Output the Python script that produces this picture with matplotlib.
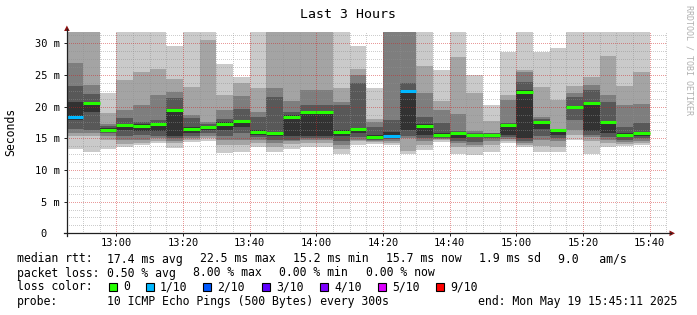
import matplotlib
matplotlib.use("Agg")
import matplotlib.pyplot as plt
from matplotlib.patches import Rectangle, Polygon
from matplotlib.lines import Line2D
import numpy as np

# 5-minute slots from 12:45 to 15:40, minutes after 12:00
slot_start = [45 + 5 * i for i in range(35)]

# the ten pings of every slot, sorted (ms); values above ~32 are cut by the graph top
ping01 = [13.3, 12.9, 13.3, 13.7, 13.9, 14.2, 13.5, 14.4, 14.6, 12.7, 12.8, 13.6, 12.9, 13.3, 13.7, 13.7, 12.6, 14.0,
          14.1, 13.9, 12.6, 13.2, 14.4, 12.5, 12.4, 12.9, 14.3, 13.7, 12.9, 12.9, 14.7, 12.5, 13.7, 13.8, 13.9]
ping02 = [15.3, 15.4, 14.8, 14.1, 14.3, 14.6, 14.3, 14.8, 15.0, 14.0, 13.9, 14.2, 13.6, 14.1, 14.2, 14.2, 13.3, 14.5,
          14.4, 14.3, 13.0, 14.0, 14.7, 13.6, 13.6, 14.0, 14.6, 14.0, 13.8, 13.6, 15.5, 14.5, 14.2, 14.1, 14.3]
ping03 = [15.8, 15.9, 15.3, 14.7, 14.7, 15.0, 14.6, 15.1, 15.4, 14.7, 14.7, 14.7, 14.3, 14.5, 14.7, 14.7, 13.9, 14.8,
          14.6, 14.6, 15.1, 14.6, 14.9, 14.2, 13.9, 14.5, 14.9, 14.3, 14.7, 14.6, 16.3, 15.2, 14.7, 14.4, 14.6]
ping04 = [16.4, 16.3, 15.8, 15.4, 15.5, 15.4, 15.0, 15.4, 15.8, 15.4, 15.8, 15.2, 14.8, 14.8, 15.0, 15.0, 14.6, 15.2,
          14.8, 14.9, 15.3, 15.1, 15.1, 14.5, 14.4, 15.0, 15.2, 14.5, 15.4, 15.1, 17.9, 15.6, 15.2, 14.8, 15.0]
ping05 = [17.9, 19.2, 16.1, 16.3, 16.2, 16.2, 15.4, 15.8, 16.3, 16.3, 16.8, 15.5, 15.4, 15.4, 15.4, 15.4, 15.3, 15.8,
          15.0, 15.2, 16.3, 15.6, 15.3, 15.0, 15.2, 15.3, 15.5, 15.0, 16.5, 15.6, 19.8, 16.1, 15.9, 15.2, 15.4]
ping06 = [20.8, 20.8, 16.6, 17.1, 17.2, 17.4, 19.6, 16.8, 17.0, 17.5, 17.9, 16.3, 16.0, 18.7, 19.3, 19.3, 16.3, 16.6,
          15.5, 16.0, 22.6, 17.3, 15.9, 16.0, 15.7, 15.7, 17.3, 22.6, 17.8, 16.35, 20.1, 20.8, 17.7, 15.8, 16.0]
ping07 = [23.2, 22.0, 16.9, 18.2, 17.5, 17.9, 21.4, 18.2, 17.2, 18.0, 19.7, 18.4, 21.6, 19.2, 20.3, 20.3, 20.3, 23.7,
          16.8, 17.9, 23.8, 18.3, 17.4, 16.2, 15.9, 15.8, 17.4, 23.9, 18.0, 16.4, 21.6, 22.6, 20.8, 16.8, 17.4]
ping08 = [26.9, 23.4, 17.3, 19.5, 20.3, 21.8, 22.3, 18.7, 17.5, 19.5, 21.7, 19.2, 22.9, 20.9, 22.7, 22.7, 20.8, 25.0,
          17.5, 33.0, 33.0, 22.1, 19.4, 18.9, 16.2, 15.9, 21.1, 25.4, 18.4, 16.5, 22.2, 23.4, 21.8, 20.3, 20.4]
ping09 = [33.0, 33.0, 19.0, 24.2, 25.5, 25.9, 24.4, 23.1, 30.5, 21.9, 23.7, 23.0, 33.0, 33.0, 33.0, 33.0, 22.9, 25.9,
          18.1, 34.0, 34.0, 26.4, 20.9, 27.8, 22.1, 17.8, 21.8, 25.8, 23.1, 21.0, 23.3, 24.7, 28.0, 23.3, 25.4]
ping10 = [34.0, 34.0, 22.1, 33.0, 33.0, 33.0, 29.5, 33.0, 33.0, 26.8, 24.7, 33.0, 34.0, 34.0, 34.0, 34.0, 33.0, 29.5,
          22.9, 35.0, 35.0, 33.0, 25.8, 33.0, 25.0, 20.3, 28.7, 33.0, 28.7, 29.2, 33.0, 33.0, 33.0, 33.0, 33.0]

median = [18.3, 20.6, 16.3, 17.1, 16.9, 17.2, 19.5, 16.5, 16.8, 17.3, 17.7, 16.0, 15.8, 18.4, 19.2, 19.2, 16.0, 16.4,
          15.2, 15.4, 22.4, 16.9, 15.6, 15.8, 15.5, 15.6, 17.1, 22.3, 17.6, 16.3, 20.0, 20.6, 17.5, 15.5, 15.8]
lost = [1, 0, 0, 0, 0, 0, 0, 0, 0, 0, 0, 0, 0, 0, 0, 0, 0, 0, 0, 1, 1, 0, 0, 0, 0, 0, 0, 0, 0, 0, 0, 0, 0, 0, 0]

loss_labels = ["0", "1/10", "2/10", "3/10", "4/10", "5/10", "9/10"]
loss_colors = ["#26ff00", "#00b8ff", "#0059ff", "#5e00ff", "#7e00ff", "#dd00ff", "#ff0000"]

x_ticks = [60, 80, 100, 120, 140, 160, 180, 200, 220]
x_labels = ["13:00", "13:20", "13:40", "14:00", "14:20", "14:40", "15:00", "15:20", "15:40"]
y_ticks = [0, 5, 10, 15, 20, 25, 30]
y_labels = ["0  ", "5 m", "10 m", "15 m", "20 m", "25 m", "30 m"]

W, H = 697, 315
MONO = "DejaVu Sans Mono"
plt.rcParams["font.family"] = MONO

fig = plt.figure(figsize=(W / 100, H / 100), dpi=100)
fig.patch.set_facecolor("white")

def fx(x):
    return x / W

def fy(y):
    return 1 - y / H

X0, X1, Y0, Y1 = 66.9, 666.9, 233.3, 32.0
ax = fig.add_axes([fx(X0), fy(Y0), (X1 - X0) / W, (Y0 - Y1) / H])
ax.set_xlim(45 + 11 / 60, 225 + 11 / 60)
ax.set_ylim(0, (Y0 - Y1) / 6.333)
for s in ax.spines.values():
    s.set_visible(False)

# smoke: outer pair lightest, inner pair darkest
pings = [ping01, ping02, ping03, ping04, ping05, ping06, ping07, ping08, ping09, ping10]
shades = ["#cacaca", "#a4a4a4", "#7e7e7e", "#585858", "#323232"]
for j, shade in enumerate(shades):
    lo = np.array(pings[j])
    hi = np.array(pings[9 - j])
    ax.bar(slot_start, hi - lo, bottom=lo, width=5, align="edge", color=shade,
           linewidth=0, zorder=1 + j, antialiased=False)

# grid drawn over the smoke, dotted
dots = (0, (1, 2))
xl, yl = ax.get_xlim(), ax.get_ylim()
minor_y = [v for v in np.arange(1.25, 31.3, 1.25) if abs(v % 5) > 1e-6]
minor_x = [m for m in range(50, 226, 5) if m % 20 != 0]
grid_kw = dict(lw=0.72, linestyles=dots, zorder=8, antialiased=False)
ax.hlines(minor_y, *xl, colors="#909090", alpha=0.45, **grid_kw)
ax.vlines(minor_x, *yl, colors="#909090", alpha=0.45, **grid_kw)
ax.hlines(y_ticks[1:], *xl, colors="#d02020", alpha=0.45, **grid_kw)
ax.vlines(x_ticks, *yl, colors="#d02020", alpha=0.45, **grid_kw)

# median, coloured by loss
med_colors = [loss_colors[n] for n in lost]
ax.hlines(median, slot_start, [s + 5 for s in slot_start], colors=med_colors, lw=2.2, zorder=9)

ax.set_xticks(x_ticks)
ax.set_xticklabels(x_labels)
ax.set_yticks(y_ticks)
ax.set_yticklabels(y_labels)
ax.tick_params(axis="both", length=2, width=0.7, color="#202020", labelsize=7.5, direction="out")
ax.tick_params(axis="y", pad=3)
ax.tick_params(axis="x", pad=1.5)

# axes lines with arrows
fig.add_artist(Line2D([fx(64), fx(671)], [fy(Y0), fy(Y0)], color="#202020", lw=0.9))
fig.add_artist(Line2D([fx(X0), fx(X0)], [fy(236), fy(29)], color="#202020", lw=0.9))
fig.add_artist(Polygon([(fx(669.5), fy(230.5)), (fx(669.5), fy(236.1)), (fx(675), fy(Y0))],
                       closed=True, color="#8b1010", lw=0))
fig.add_artist(Polygon([(fx(64.1), fy(31)), (fx(69.7), fy(31)), (fx(X0), fy(25.5))],
                       closed=True, color="#8b1010", lw=0))

fig.text(fx(347.5), fy(14), "Last 3 Hours", ha="center", va="center", fontsize=9.5)
fig.text(fx(10.5), fy(132), "Seconds", ha="center", va="center", rotation=90, fontsize=8.3)
fig.text(fx(688.5), fy(60), "RRDTOOL / TOBI OETIKER", ha="center", va="center", rotation=270,
         fontsize=6, color="#b0b0b0")

LS = 8.3
rows = [
    (259, [(17, "median rtt:"), (107, "17.4 ms avg"), (200, "22.5 ms max"), (293, "15.2 ms min"),
           (386, "15.7 ms now"), (479, "1.9 ms sd"), (558, "9.0   am/s")]),
    (273, [(17, "packet loss:"), (107, "0.50 % avg"), (193, "8.00 % max"), (279, "0.00 % min"),
           (366, "0.00 % now")]),
    (287, [(17, "loss color:")]),
    (301, [(17, "probe:"), (107, "10 ICMP Echo Pings (500 Bytes) every 300s"),
           (478, "end: Mon May 19 15:45:11 2025")]),
]
for y, items in rows:
    for x, t in items:
        fig.text(fx(x), fy(y), t, ha="left", va="center", fontsize=LS)

box_x = [109, 146, 203, 262, 320, 378, 436]
for bx, lab, col in zip(box_x, loss_labels, loss_colors):
    fig.add_artist(Rectangle((fx(bx), fy(291)), 8 / W, 8.5 / H, facecolor=col,
                             edgecolor="black", lw=0.8))
    fig.text(fx(bx + 14), fy(287), lab, ha="left", va="center", fontsize=LS)

fig.savefig("out.png", dpi=100)
